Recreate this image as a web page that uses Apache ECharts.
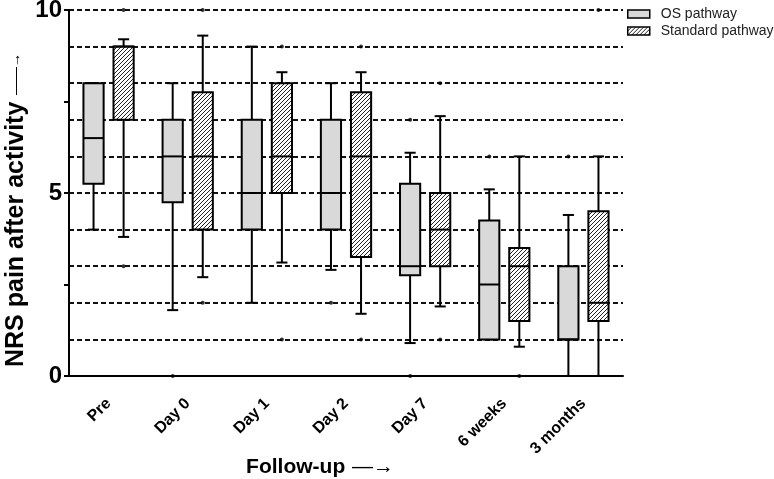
<!DOCTYPE html>
<html><head><meta charset="utf-8">
<script src="https://cdn.jsdelivr.net/npm/echarts@6/dist/echarts.min.js"></script>
<style>html,body{margin:0;padding:0;background:#fff}#c{width:774px;height:479px}</style>
</head><body><div id="c"></div>
<script>
const categories = ['Pre', 'Day 0', 'Day 1', 'Day 2', 'Day 7', '6 weeks', '3 months'];

// OS pathway box statistics
const osMin = [4, 1.8, 2, 2.9, 0.9, 1, 0];
const osQ1  = [5.25, 4.75, 4, 4, 2.75, 1, 1];
const osMed = [6.5, 6, 5, 5, 3, 2.5, 1];
const osQ3  = [8, 7, 7, 7, 5.25, 4.25, 3];
const osMax = [8, 8, 9, 8, 6.1, 5.1, 4.4];
const osOutliers = [['Day 0', 0], ['Day 2', 2], ['Day 7', 7], ['Day 7', 0], ['6 weeks', 6], ['3 months', 6]];

// Standard pathway box statistics
const stdMin = [3.8, 2.7, 3.1, 1.7, 1.9, 0.8, 0];
const stdQ1  = [7, 4, 5, 3.25, 3, 1.5, 1.5];
const stdMed = [9, 6, 6, 6, 4, 3, 2];
const stdQ3  = [9, 7.75, 8, 7.75, 5, 3.5, 4.5];
const stdMax = [9.2, 9.3, 8.3, 8.3, 7.1, 6, 6];
const stdOutliers = [['Pre', 10], ['Pre', 3], ['Day 0', 10], ['Day 0', 2], ['Day 1', 9], ['Day 1', 1],
  ['Day 2', 9], ['Day 2', 1], ['Day 7', 8], ['Day 7', 1], ['6 weeks', 0], ['3 months', 10]];

const yTickLabels = [0, 5, 10];

const FONT = '"Liberation Sans", Arial, sans-serif';

// hatch pattern (/// stripes)
const hatch = document.createElement('canvas');
hatch.width = 4; hatch.height = 4;
const g = hatch.getContext('2d');
g.fillStyle = '#fff'; g.fillRect(0, 0, 4, 4);
g.strokeStyle = '#222'; g.lineWidth = 1;
g.beginPath();
g.moveTo(0, 4); g.lineTo(4, 0);
g.moveTo(-1, 1); g.lineTo(1, -1);
g.moveTo(3, 5); g.lineTo(5, 3);
g.stroke();
const hatchFill = { image: hatch, repeat: 'repeat' };
const osFill = '#d9d9d9';

function boxData(mn, q1, md, q3, mx) {
  return categories.map((c, i) => [i, mn[i], q1[i], md[i], q3[i], mx[i]]);
}
function outlierData(list) {
  return list.map(d => [categories.indexOf(d[0]), d[1]]);
}

function makeRender(side, fill) {
  return function (params, api) {
    const i = api.value(0);
    const band = api.size([1, 0])[0];
    const off = side * band * 0.19;
    const bw = band * 0.255, cw = band * 0.14;
    const p = k => api.coord([i, api.value(k)]);
    const pMin = p(1), pQ1 = p(2), pMed = p(3), pQ3 = p(4), pMax = p(5);
    const x = pMin[0] + off;
    const ls = { stroke: '#000', lineWidth: 2 };
    return {
      type: 'group', children: [
        { type: 'line', shape: { x1: x, y1: pMax[1], x2: x, y2: pQ3[1] }, style: ls },
        { type: 'line', shape: { x1: x, y1: pQ1[1], x2: x, y2: pMin[1] }, style: ls },
        { type: 'line', shape: { x1: x - cw / 2, y1: pMax[1], x2: x + cw / 2, y2: pMax[1] }, style: ls },
        { type: 'line', shape: { x1: x - cw / 2, y1: pMin[1], x2: x + cw / 2, y2: pMin[1] }, style: ls },
        { type: 'rect', shape: { x: x - bw / 2, y: pQ3[1], width: bw, height: pQ1[1] - pQ3[1] },
          style: { fill: fill, stroke: '#000', lineWidth: 2 } },
        { type: 'line', shape: { x1: x - bw / 2, y1: pMed[1], x2: x + bw / 2, y2: pMed[1] }, style: ls }
      ]
    };
  };
}

const chart = echarts.init(document.getElementById('c'), null, { renderer: 'canvas' });
chart.setOption({
  animation: false,
  backgroundColor: '#fff',
  grid: { left: 69, right: 151, top: 10, bottom: 103, containLabel: false, outerBoundsMode: 'none' },
  legend: {
    orient: 'vertical', left: 627, top: 7, itemWidth: 22, itemHeight: 8, itemGap: 3,
    selectedMode: false, padding: 0,
    textStyle: { fontSize: 14, color: '#222', fontFamily: FONT, padding: [0, 0, 0, 6] },
    data: [
      { name: 'OS pathway', icon: 'rect', itemStyle: { color: osFill, borderColor: '#000', borderWidth: 1.5 } },
      { name: 'Standard pathway', icon: 'rect', itemStyle: { color: hatchFill, borderColor: '#000', borderWidth: 1.5 } }
    ]
  },
  xAxis: {
    type: 'category', data: categories, boundaryGap: true,
    axisLine: { lineStyle: { color: '#000', width: 2 } },
    axisTick: { alignWithLabel: true, length: 8, lineStyle: { color: '#000', width: 2 } },
    axisLabel: { rotate: 45, fontSize: 16, fontWeight: 'bold', color: '#000', fontFamily: FONT, margin: 25, interval: 0 },
    splitLine: { show: false },
    name: '{b|Follow-up}  {a|—→}', nameLocation: 'middle', nameGap: 81, nameMoveOverlap: false,
    nameTextStyle: {
      padding: [0, 52, 0, 0],
      rich: {
        b: { fontSize: 21, fontWeight: 'bold', color: '#000', fontFamily: FONT },
        a: { fontSize: 21, color: '#000', fontFamily: FONT }
      }
    }
  },
  yAxis: [{
    type: 'value', min: 0, max: 10, interval: 1,
    axisLine: { show: true, lineStyle: { color: '#000', width: 2 } },
    axisTick: { show: false },
    axisLabel: { fontSize: 24, fontWeight: 'bold', color: '#000', fontFamily: FONT, margin: 7,
      formatter: v => (yTickLabels.indexOf(v) >= 0 ? String(v) : '') },
    splitLine: { show: true, lineStyle: { type: [5, 3], color: '#111', width: 1.8 } },
    name: '{b|NRS pain after activity}  {a|——→}', nameLocation: 'middle', nameGap: 40, nameMoveOverlap: false,
    nameTextStyle: {
      padding: [0, 34, 0, 0],
      rich: {
        b: { fontSize: 25, fontWeight: 'bold', color: '#000', fontFamily: FONT },
        a: { fontSize: 14, color: '#000', fontFamily: FONT }
      }
    }
  }, {
    type: 'value', min: 0, max: 10, interval: 2.5, position: 'left',
    axisLine: { show: false },
    axisTick: { show: true, length: 5, lineStyle: { color: '#000', width: 2 } },
    axisLabel: { show: false },
    splitLine: { show: false }
  }],
  series: [
    { name: 'OS pathway', type: 'custom', renderItem: makeRender(-1, osFill),
      encode: { x: 0, y: [1, 2, 3, 4, 5] }, data: boxData(osMin, osQ1, osMed, osQ3, osMax), z: 3 },
    { name: 'Standard pathway', type: 'custom', renderItem: makeRender(1, hatchFill),
      encode: { x: 0, y: [1, 2, 3, 4, 5] }, data: boxData(stdMin, stdQ1, stdMed, stdQ3, stdMax), z: 3 },
    { name: 'OS pathway', type: 'scatter', data: outlierData(osOutliers), symbolSize: 4,
      symbolOffset: [-15, 0], itemStyle: { color: '#000' }, z: 4 },
    { name: 'Standard pathway', type: 'scatter', data: outlierData(stdOutliers), symbolSize: 4,
      symbolOffset: [15, 0], itemStyle: { color: '#000' }, z: 4 }
  ]
});
</script></body></html>
